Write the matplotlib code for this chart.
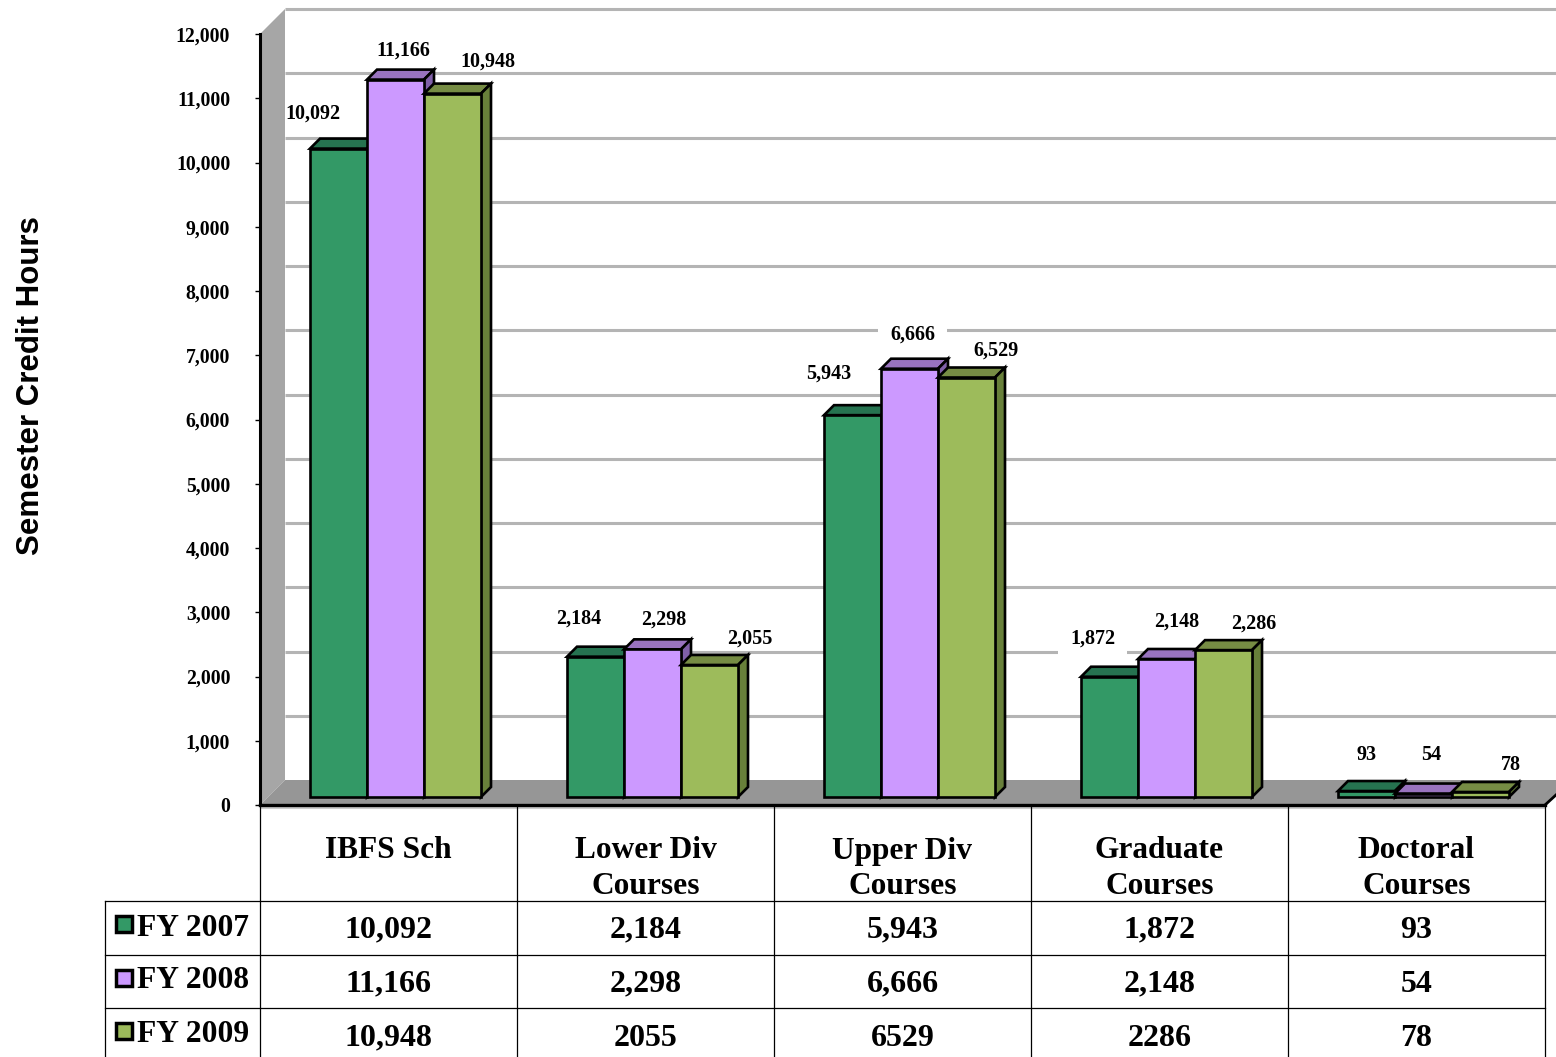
import numpy as np
import matplotlib
matplotlib.use('Agg')
import matplotlib.pyplot as plt
from matplotlib.patches import Polygon, Rectangle
from matplotlib.lines import Line2D
from matplotlib.transforms import Affine2D, IdentityTransform, blended_transform_factory

categories = ['IBFS Sch', 'Lower Div\nCourses', 'Upper Div\nCourses', 'Graduate\nCourses', 'Doctoral\nCourses']
series_names = ['FY 2007', 'FY 2008', 'FY 2009']
fy2007 = [10092, 2184, 5943, 1872, 93]
fy2008 = [11166, 2298, 6666, 2148, 54]
fy2009 = [10948, 2055, 6529, 2286, 78]
table_2007 = ['10,092', '2,184', '5,943', '1,872', '93']
table_2008 = ['11,166', '2,298', '6,666', '2,148', '54']
table_2009 = ['10,948', '2055', '6529', '2286', '78']
yticks = np.arange(0, 13000, 1000)

W, H = 1556, 1057
front_cols = ['#339966', '#CC99FF', '#9DBB5B']
top_cols = ['#267350', '#9973BF', '#768C44']
side_cols = ['#1F5F42', '#8060A8', '#68803A']

# label nudges from the top middle of each bar, in pixels
nudges = [
    [(-26, 35), (-17, 38), (-24, 42), (-17, 38), (0, 36)],
    [(8, 29), (11, 30), (3, 34), (10, 37), (8, 39)],
    [(35, 32), (40, 26), (30, 27), (30, 27), (30, 27)],
]
boxed = ['6,666', '1,872']

plt.rcParams['font.family'] = ['Liberation Serif', 'DejaVu Serif']
plt.rcParams['font.weight'] = 'bold'

fig = plt.figure(figsize=(W / 100, H / 100), dpi=100)
ax = fig.add_axes([260 / W, 1 - 805 / H, 1285 / W, 771 / H])
ax.set_xlim(-0.5, 4.5)
ax.set_ylim(0, 12000)
ax.patch.set_visible(False)
ax.set_autoscale_on(False)


def shift(dx, dy):
    return ax.transData + Affine2D().translate(dx, dy)


def disp(x, y, dx=0, dy=0):
    return ax.transData.transform((x, y)) + np.array([dx, dy])


def face(points, color, z):
    ax.add_patch(Polygon(points, closed=True, transform=IdentityTransform(), facecolor=color,
                         edgecolor='black', linewidth=1.9, clip_on=False, zorder=z))


# back wall and floor
depth = 25
ax.add_patch(Polygon([disp(-0.5, 0), disp(-0.5, 12000), disp(-0.5, 12000, depth, depth), disp(-0.5, 0, depth, depth)],
                     closed=True, transform=IdentityTransform(), facecolor='#A6A6A6', edgecolor='none',
                     clip_on=False, zorder=1))
ax.add_patch(Polygon([disp(-0.5, 0), disp(4.5, 0), disp(4.5, 0, depth, depth), disp(-0.5, 0, depth, depth)],
                     closed=True, transform=IdentityTransform(), facecolor='#969696', edgecolor='none',
                     clip_on=False, zorder=1))
ax.hlines(yticks[1:], -0.5, 4.5, transform=shift(depth, depth), colors='#B4B4B4', linewidth=2.2,
          clip_on=False, zorder=1.5)
ax.hlines([0], -0.5, 4.5, transform=shift(0, -3), colors='#CCCCCC', linewidth=1.5, clip_on=False, zorder=1.5)
ax.add_line(Line2D(*zip(disp(4.5, 0), disp(4.5, 0, 12, 11)), transform=IdentityTransform(), color='black',
                   linewidth=2, clip_on=False, zorder=3))

# bars with the fake 3d faces
base = 8
off = 7
bar_w = 57 / 257
dx3, dy3 = 10, 10
all_vals = [fy2007, fy2008, fy2009]
for s, vals in enumerate(all_vals):
    xs = np.arange(5) + (s - 1) * bar_w
    z = 5 + s
    ax.bar(xs, vals, bar_w, transform=shift(off, base), color=front_cols[s], edgecolor='black', linewidth=1.9,
           clip_on=False, zorder=z + 0.5)
    for x, v in zip(xs, vals):
        x0, x1 = x - bar_w / 2, x + bar_w / 2
        face([disp(x0, v, off, base), disp(x1, v, off, base),
              disp(x1, v, off + dx3, base + dy3), disp(x0, v, off + dx3, base + dy3)], top_cols[s], z)
        face([disp(x1, 0, off, base), disp(x1, v, off, base),
              disp(x1, v, off + dx3, base + dy3), disp(x1, 0, off + dx3, base + dy3)], side_cols[s], z)

    for i, (x, v) in enumerate(zip(xs, vals)):
        lab = f'{v:,}'
        nx, ny = nudges[s][i]
        bb = dict(facecolor='white', edgecolor='none', pad=8.5) if lab in boxed else None
        ax.text(x, v, lab, transform=shift(off + nx, base + ny), ha='center', va='center', fontsize=14.5,
                fontweight='bold', bbox=bb, zorder=20, clip_on=False)

# axis
ax.spines['top'].set_visible(False)
ax.spines['right'].set_visible(False)
ax.spines['left'].set_linewidth(2.2)
ax.spines['bottom'].set_linewidth(2.4)
ax.set_xticks([])
ax.set_yticks(yticks)
ax.set_yticklabels([f'{t:,}' for t in yticks], fontsize=14.2, fontweight='bold')
ax.tick_params(axis='y', length=3.5, width=1, pad=18)
fig.text(31 / W, 1 - 386 / H, 'Semester Credit Hours', rotation=90, ha='center', va='center',
         family='Liberation Sans', fontweight='bold', fontsize=22.5)

# data table under the plot
tr = blended_transform_factory(ax.transData, fig.transFigure)


def ypx(y):
    return 1 - y / H


ax.vlines(np.arange(6) - 0.5, ypx(1057), ypx(805), transform=tr, colors='black', linewidth=0.9, clip_on=False)
for y in [901, 955, 1008]:
    fig.add_artist(Line2D([105 / W, 1545 / W], [ypx(y), ypx(y)], color='black', linewidth=0.9))
fig.add_artist(Line2D([105 / W, 105 / W], [ypx(901), ypx(1057)], color='black', linewidth=0.9))

for i, cat in enumerate(categories):
    parts = cat.split('\n')
    for j, part in enumerate(parts):
        ax.text(i, ypx(851 + 36 * j), part, transform=tr, ha='center', va='center', fontsize=22.6,
                fontweight='bold', clip_on=False)

for r, row in enumerate([table_2007, table_2008, table_2009]):
    y = [930, 984, 1038][r]
    for i, val in enumerate(row):
        ax.text(i, ypx(y), val, transform=tr, ha='center', va='center', fontsize=23, fontweight='bold', clip_on=False)
    ly = [928, 981, 1035][r]
    fig.text(137 / W, ypx(ly), series_names[r], ha='left', va='center', fontsize=22.7, fontweight='bold')
    sy = [924, 978, 1031][r]
    fig.add_artist(Rectangle((116 / W, ypx(sy + 8)), 16 / W, 16 / H, transform=fig.transFigure,
                             facecolor=front_cols[r], edgecolor='black', linewidth=2.5))

fig.savefig('out.png', dpi=100)
